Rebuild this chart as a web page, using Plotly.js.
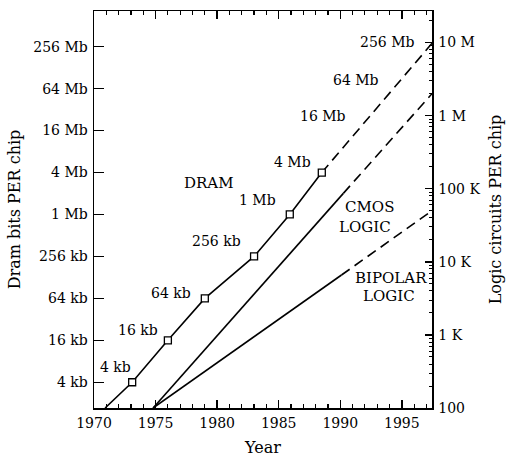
<!DOCTYPE html>
<html>
<head>
<meta charset="utf-8">
<script src="https://cdn.plot.ly/plotly-3.0.1.min.js"></script>
<style>html,body{margin:0;padding:0;background:#fff;}#chart{width:507px;height:457px;}</style>
</head>
<body>
<div id="chart"></div>
<script>
// ---- data ----
const xTickVals = [1970, 1975, 1980, 1985, 1990, 1995];
const dramTickVals = [4096, 16384, 65536, 262144, 1048576, 4194304, 16777216, 67108864, 268435456];
const dramTickText = ['4 kb', '16 kb', '64 kb', '256 kb', '1 Mb', '4 Mb', '16 Mb', '64 Mb', '256 Mb'];
const logicTickVals = [100, 1000, 10000, 100000, 1000000, 10000000];
const logicTickText = ['100', '1 K', '10 K', '100 K', '1 M', '10 M'];

// DRAM milestones (open squares)
const dramYears = [1973.1, 1976.0, 1979.0, 1983.0, 1985.9, 1988.5];
const dramBits = [4096, 16384, 65536, 262144, 1048576, 4194304];
// DRAM trend line (solid part starts at bottom edge) and projection (dashed)
const dramSolidYears = [1970.9, 1973.1, 1976.0, 1979.0, 1983.0, 1985.9, 1988.5];
const dramSolidBits = [1750, 4096, 16384, 65536, 262144, 1048576, 4194304];
const dramDashYears = [1988.5, 1997.45];
const dramDashBits = [4194304, 300000000];

// CMOS logic
const cmosSolidYears = [1974.8, 1990.25];
const cmosSolidCircuits = [100, 86500];
const cmosDashYears = [1990.25, 1997.45];
const cmosDashCircuits = [86500, 2000000];

// Bipolar logic
const bipSolidYears = [1974.8, 1990.1];
const bipSolidCircuits = [100, 6600];
const bipDashYears = [1990.1, 1997.45];
const bipDashCircuits = [6600, 50000];

// in-plot labels
const dramLabels = ['4 kb', '16 kb', '64 kb', '256 kb', '1 Mb', '4 Mb', '16 Mb', '64 Mb', '256 Mb'];
const wordLabels = ['DRAM', 'CMOS', 'LOGIC', 'BIPOLAR', 'LOGIC'];

// ---- layout helpers ----
const FONT = 'DejaVu Serif';
const L = 94, R = 431.7, T = 11, B = 408;
const X_RANGE = [1970, 1997.45];
const px = x => (x - L) / (R - L);
const py = y => (B - y) / (B - T);

const dramLabelPos = [[115.3, 366.7], [138.3, 330], [171, 293.3], [216, 240.7], [257.5, 200], [292, 161.7], [323, 116], [356, 80], [387.5, 41.7]];
const wordLabelPos = [[208.8, 183.3], [369, 207], [365, 227], [390.8, 278.3], [389, 296]];

const minorLogic = [];
for (let d = 100; d <= 10000000; d *= 10) {
  for (let k = 2; k <= 9; k++) minorLogic.push(d * k);
}

const lineStyle = {color: '#000', width: 1.6};
const dashStyle = {color: '#000', width: 1.6, dash: '10px,6px'};

const traces = [
  {x: dramSolidYears, y: dramSolidBits, mode: 'lines', line: lineStyle, yaxis: 'y', hoverinfo: 'skip'},
  {x: dramDashYears, y: dramDashBits, mode: 'lines', line: dashStyle, yaxis: 'y', hoverinfo: 'skip'},
  {x: cmosSolidYears, y: cmosSolidCircuits, mode: 'lines', line: lineStyle, yaxis: 'y2', hoverinfo: 'skip'},
  {x: cmosDashYears, y: cmosDashCircuits, mode: 'lines', line: dashStyle, yaxis: 'y2', hoverinfo: 'skip'},
  {x: bipSolidYears, y: bipSolidCircuits, mode: 'lines', line: lineStyle, yaxis: 'y2', hoverinfo: 'skip'},
  {x: bipDashYears, y: bipDashCircuits, mode: 'lines', line: dashStyle, yaxis: 'y2', hoverinfo: 'skip'},
  {x: dramYears, y: dramBits, mode: 'markers', yaxis: 'y',
   marker: {symbol: 'square', size: 7, color: '#fff', line: {color: '#000', width: 1.3}}, hoverinfo: 'skip'},
  // empty trace so the top year axis is drawn
  {x: [], y: [], xaxis: 'x2', yaxis: 'y', mode: 'lines', hoverinfo: 'skip'}
];

const annotations = [];
dramLabels.forEach((t, i) => annotations.push({
  text: t, xref: 'paper', yref: 'paper', x: px(dramLabelPos[i][0]), y: py(dramLabelPos[i][1]),
  showarrow: false, font: {family: FONT, size: 14, color: '#000'}, xanchor: 'center', yanchor: 'middle'
}));
wordLabels.forEach((t, i) => annotations.push({
  text: t, xref: 'paper', yref: 'paper', x: px(wordLabelPos[i][0]), y: py(wordLabelPos[i][1]),
  showarrow: false, font: {family: FONT, size: 15, color: '#000'}, xanchor: 'center', yanchor: 'middle'
}));

const axisCommon = {
  showgrid: false, zeroline: false, showline: true, linecolor: '#000', linewidth: 1.5,
  ticks: 'inside', tickcolor: '#000', tickwidth: 1.5,
  tickfont: {family: FONT, size: 14, color: '#000'}
};
const yearMinor = {dtick: 1, tick0: 1970, ticks: 'inside', ticklen: 4, tickwidth: 1.2, tickcolor: '#000'};

const layout = {
  width: 507, height: 457,
  margin: {l: L, r: 507 - R, t: T, b: 457 - B},
  paper_bgcolor: '#fff', plot_bgcolor: '#fff',
  showlegend: false,
  xaxis: Object.assign({}, axisCommon, {
    range: X_RANGE, tickmode: 'array', tickvals: xTickVals, ticklen: 8,
    minor: yearMinor, ticklabelstandoff: 2,
    title: {text: 'Year', font: {family: FONT, size: 16, color: '#000'}, standoff: 11}
  }),
  xaxis2: Object.assign({}, axisCommon, {
    overlaying: 'x', side: 'top', range: X_RANGE, tickmode: 'array', tickvals: xTickVals, ticklen: 8,
    minor: yearMinor, showticklabels: false
  }),
  yaxis: Object.assign({}, axisCommon, {
    type: 'log', range: [3.243, 8.941], tickmode: 'array', tickvals: dramTickVals, ticktext: dramTickText,
    ticklen: 10, ticklabelstandoff: 2,
    title: {text: 'Dram bits PER chip', font: {family: FONT, size: 16, color: '#000'}, standoff: 8}
  }),
  yaxis2: Object.assign({}, axisCommon, {
    type: 'log', overlaying: 'y', side: 'right', range: [2, 7.432], tickmode: 'array',
    tickvals: logicTickVals, ticktext: logicTickText, ticklen: 7, ticklabelstandoff: 2,
    minor: {tickmode: 'array', tickvals: minorLogic, ticks: 'inside', ticklen: 3, tickwidth: 1, tickcolor: '#000'},
    title: {text: 'Logic circuits PER chip', font: {family: FONT, size: 16, color: '#000'}, standoff: 10}
  }),
  annotations: annotations
};

Plotly.newPlot('chart', traces, layout, {staticPlot: true, displayModeBar: false});
</script>
</body>
</html>
